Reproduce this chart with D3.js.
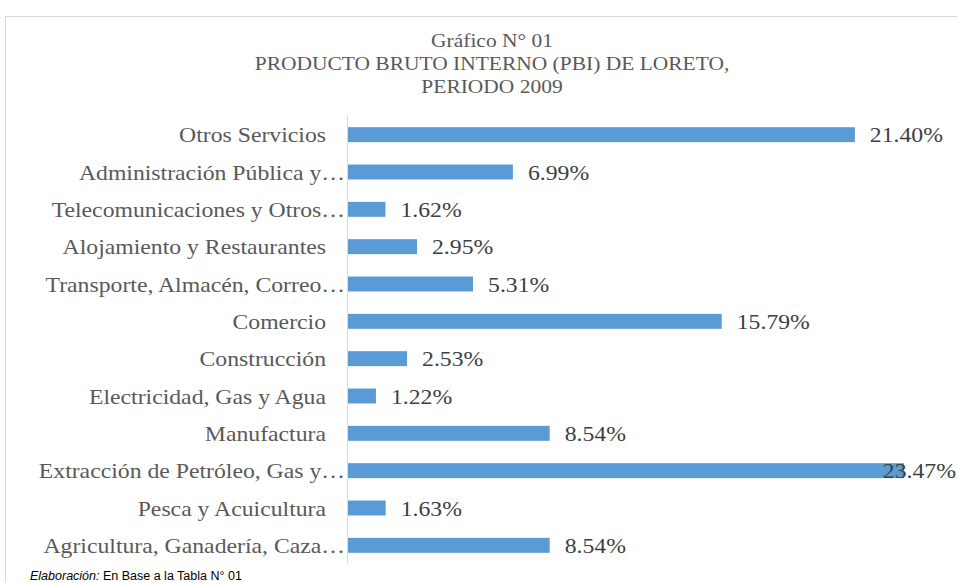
<!DOCTYPE html>
<html lang="es">
<head>
<meta charset="UTF-8">
<title>PBI Loreto 2009</title>
<script src="https://d3js.org/d3.v7.min.js"></script>
<style>
  body { margin: 0; background: #fff; }
  svg { display: block; }
</style>
</head>
<body>
<svg id="chart" width="957" height="582"></svg>
<script>
  // data (top to bottom)
  var categories = [
    "Otros Servicios",
    "Administración Pública y…",
    "Telecomunicaciones y Otros…",
    "Alojamiento y Restaurantes",
    "Transporte, Almacén, Correo…",
    "Comercio",
    "Construcción",
    "Electricidad, Gas y Agua",
    "Manufactura",
    "Extracción de Petróleo, Gas y…",
    "Pesca y Acuicultura",
    "Agricultura, Ganadería, Caza…"
  ];
  var values = [21.40, 6.99, 1.62, 2.95, 5.31, 15.79, 2.53, 1.22, 8.54, 23.47, 1.63, 8.54];
  var titleLines = ["Gráfico N° 01", "PRODUCTO BRUTO INTERNO (PBI) DE LORETO,", "PERIODO 2009"];

  var W = 957;
  var svg = d3.select("#chart");
  var serif = "'Liberation Serif', 'Times New Roman', serif";
  var grey = "#595959";
  var sx = 1.13; // the source text is a bit wider than Times

  // chart frame
  svg.append("rect")
    .attr("x", 5.5).attr("y", 16.5)
    .attr("width", 1000).attr("height", 600)
    .attr("fill", "none")
    .attr("stroke", "#d9d9d9");

  svg.append("g")
    .selectAll("text")
    .data(titleLines)
    .join("text")
    .attr("transform", (d, i) => `translate(492,${47 + i * 23}) scale(${sx},1)`)
    .attr("text-anchor", "middle")
    .attr("font-family", serif)
    .attr("font-size", 19)
    .attr("fill", grey)
    .text(d => d);

  var x0 = 347;
  var x = d3.scaleLinear().domain([0, 23.47]).range([x0, 904]);
  var y = d3.scaleBand().domain(categories).range([116, 564]).paddingInner(0.6).paddingOuter(0.3);

  svg.append("g")
    .selectAll("rect")
    .data(values)
    .join("rect")
    .attr("x", x0)
    .attr("y", (d, i) => y(categories[i]))
    .attr("width", d => x(d) - x0)
    .attr("height", y.bandwidth())
    .attr("fill", "#5b9bd5");

  // vertical axis line
  svg.append("line")
    .attr("x1", x0 + 0.5).attr("x2", x0 + 0.5)
    .attr("y1", 115).attr("y2", 564)
    .attr("stroke", "#d9d9d9");

  svg.append("g")
    .selectAll("text")
    .data(categories)
    .join("text")
    .attr("transform", d => {
      var right = d.endsWith("…") ? 345 : 326;
      return `translate(${right},${y(d) + y.bandwidth() / 2 + 7.5}) scale(${sx},1)`;
    })
    .attr("text-anchor", "end")
    .attr("font-family", serif)
    .attr("font-size", 21)
    .attr("fill", grey)
    .text(d => d);

  svg.append("g")
    .selectAll("text")
    .data(values)
    .join("text")
    .attr("font-family", serif)
    .attr("font-size", 21)
    .attr("fill", "#404040")
    .text(d => d.toFixed(2) + "%")
    .attr("transform", function (d, i) {
      var w = this.getComputedTextLength() * sx;
      var lx = Math.min(x(d) + 15, W - 1 - w);
      return `translate(${lx},${y(categories[i]) + y.bandwidth() / 2 + 7.5}) scale(${sx},1)`;
    });

  var foot = svg.append("text")
    .attr("x", 30).attr("y", 580)
    .attr("font-family", "'Liberation Sans', Arial, sans-serif")
    .attr("font-size", 12.5)
    .attr("fill", "#000");
  foot.append("tspan").attr("font-style", "italic").text("Elaboración:");
  foot.append("tspan").text(" En Base a la Tabla N° 01");
</script>
</body>
</html>
